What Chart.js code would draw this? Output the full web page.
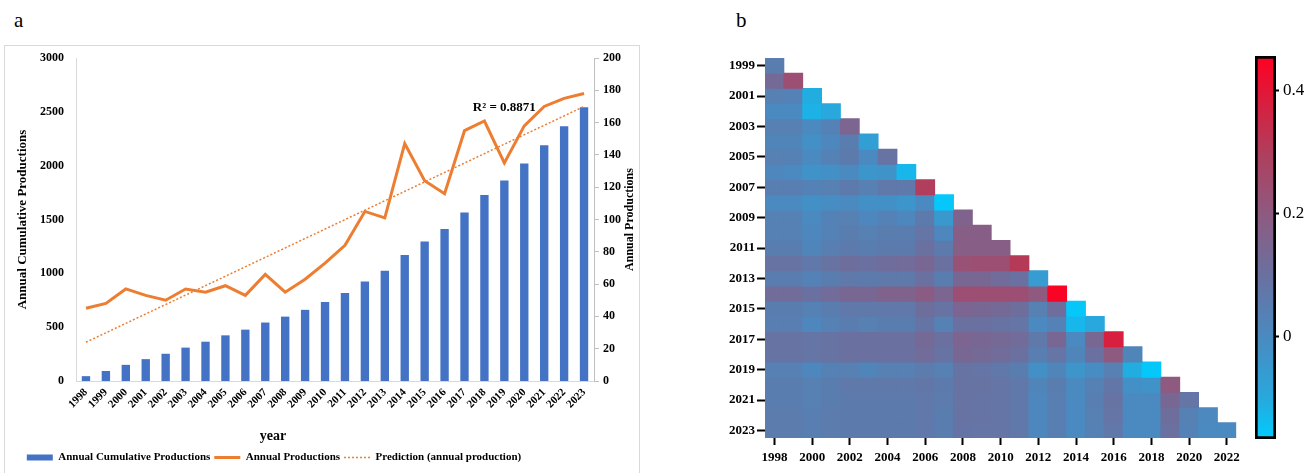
<!DOCTYPE html>
<html>
<head>
<meta charset="utf-8">
<script src="https://cdn.jsdelivr.net/npm/chart.js@4.4.1/dist/chart.umd.min.js"></script>
<style>
  body { margin: 0; background: #fff; }
  #wrap { position: relative; width: 1315px; height: 473px; overflow: hidden; }
  .panel-label { position: absolute; font-family: "Liberation Serif", serif; font-size: 21px; color: #000; line-height: 1; }
  #frameA { position: absolute; left: 4px; top: 45px; width: 634px; height: 440px; border: 1px solid #D9D9D9; }
  canvas { position: absolute; top: 0; }
</style>
</head>
<body>
<div id="wrap">
  <div id="frameA"></div>
  <div class="panel-label" style="left:14px; top:10px;">a</div>
  <div class="panel-label" style="left:736px; top:10px;">b</div>
  <canvas id="chartA" style="left:0px" width="650" height="473"></canvas>
  <canvas id="chartB" style="left:700px" width="545" height="473"></canvas>
  <canvas id="chartC" style="left:1240px" width="75" height="473"></canvas>
</div>
<script>
const SERIF = '"Liberation Serif", "Times New Roman", serif';

// panel a
const years = ['1998', '1999', '2000', '2001', '2002', '2003', '2004', '2005', '2006', '2007', '2008', '2009', '2010',
  '2011', '2012', '2013', '2014', '2015', '2016', '2017', '2018', '2019', '2020', '2021', '2022', '2023'];
const cumulative = [45, 93, 150, 203, 253, 310, 365, 424, 477, 543, 598, 661, 734,
  818, 923, 1024, 1171, 1295, 1411, 1566, 1727, 1862, 2020, 2190, 2365, 2543];
const annual = [45, 48, 57, 53, 50, 57, 55, 59, 53, 66, 55, 63, 73,
  84, 105, 101, 147, 124, 116, 155, 161, 135, 158, 170, 175, 178];
const trendYears = ['1998', '2023'];
const trendValues = [24, 170];
const r2Text = 'R² = 0.8871';

// panel b
const colYears = ['1998', '2000', '2002', '2004', '2006', '2008', '2010', '2012', '2014', '2016', '2018', '2020', '2022'];
const rowYears = ['1999', '2001', '2003', '2005', '2007', '2009', '2011', '2013', '2015', '2017', '2019', '2021', '2023'];
const corr = [
  [0.05],
  [0.13, 0.24],
  [0.04, 0.03, -0.11],
  [0.00, 0.00, -0.12, -0.10],
  [0.04, 0.04, 0.00, 0.03, 0.15],
  [0.02, 0.02, -0.02, 0.01, 0.05, -0.07],
  [0.04, 0.035, 0.00, 0.03, 0.06, 0.00, 0.09],
  [0.01, 0.00, -0.03, -0.02, 0.00, -0.04, -0.03, -0.13],
  [0.045, 0.045, 0.03, 0.04, 0.06, 0.04, 0.07, 0.065, 0.30],
  [0.00, 0.00, -0.02, -0.01, 0.00, -0.02, -0.02, -0.04, 0.00, -0.16],
  [0.035, 0.035, 0.00, 0.03, 0.04, 0.01, 0.03, 0.01, 0.06, -0.05, 0.16],
  [0.035, 0.035, 0.01, 0.03, 0.05, 0.04, 0.05, 0.05, 0.08, 0.01, 0.18, 0.18],
  [0.05, 0.05, 0.02, 0.045, 0.06, 0.05, 0.06, 0.06, 0.10, 0.06, 0.18, 0.18, 0.18],
  [0.09, 0.09, 0.07, 0.09, 0.11, 0.10, 0.115, 0.12, 0.14, 0.10, 0.23, 0.24, 0.24, 0.31],
  [0.05, 0.05, 0.03, 0.05, 0.065, 0.06, 0.065, 0.065, 0.10, 0.05, 0.14, 0.14, 0.12, 0.10, -0.06],
  [0.12, 0.12, 0.10, 0.12, 0.14, 0.14, 0.16, 0.16, 0.19, 0.15, 0.24, 0.24, 0.24, 0.24, 0.20, 0.45],
  [0.05, 0.05, 0.035, 0.05, 0.07, 0.065, 0.07, 0.07, 0.11, 0.09, 0.15, 0.14, 0.13, 0.11, 0.04, 0.11, -0.16],
  [0.045, 0.045, 0.01, 0.035, 0.05, 0.04, 0.05, 0.05, 0.085, 0.035, 0.10, 0.10, 0.09, 0.08, 0.00, 0.03, -0.13, -0.10],
  [0.09, 0.09, 0.08, 0.09, 0.10, 0.10, 0.10, 0.10, 0.13, 0.10, 0.15, 0.14, 0.13, 0.12, 0.065, 0.14, 0.00, 0.14, 0.38],
  [0.09, 0.09, 0.08, 0.09, 0.10, 0.10, 0.10, 0.10, 0.12, 0.09, 0.14, 0.13, 0.12, 0.10, 0.045, 0.08, 0.02, 0.10, 0.20, 0.02],
  [0.04, 0.04, 0.01, 0.035, 0.04, 0.02, 0.04, 0.04, 0.055, 0.04, 0.09, 0.08, 0.07, 0.05, -0.02, 0.02, -0.035, -0.01, 0.04, -0.11, -0.16],
  [0.05, 0.05, 0.04, 0.05, 0.065, 0.065, 0.065, 0.065, 0.075, 0.06, 0.09, 0.09, 0.08, 0.07, 0.02, 0.05, 0.00, 0.035, 0.075, -0.02, -0.03, 0.20],
  [0.05, 0.05, 0.04, 0.05, 0.06, 0.06, 0.06, 0.06, 0.07, 0.055, 0.09, 0.085, 0.08, 0.07, 0.01, 0.045, 0.00, 0.045, 0.09, 0.00, 0.00, 0.14, 0.08],
  [0.055, 0.055, 0.045, 0.055, 0.06, 0.06, 0.06, 0.06, 0.07, 0.05, 0.09, 0.085, 0.08, 0.07, 0.01, 0.045, 0.00, 0.04, 0.08, 0.00, 0.00, 0.11, 0.035, 0.005],
  [0.055, 0.055, 0.045, 0.055, 0.06, 0.06, 0.06, 0.06, 0.07, 0.05, 0.085, 0.08, 0.08, 0.07, 0.01, 0.045, 0.00, 0.035, 0.07, 0.00, 0.00, 0.10, 0.03, 0.00, 0.00]
];
const colorbarRange = [-0.167, 0.457];
const colorbarTicks = [0, 0.2, 0.4];

// colour map (value -> rgb)
const colorStops = [
  [-0.17, [0, 204, 255]],
  [-0.10, [40, 168, 220]],
  [0.00, [74, 138, 192]],
  [0.10, [106, 112, 160]],
  [0.20, [142, 90, 128]],
  [0.30, [176, 62, 92]],
  [0.46, [255, 0, 34]]
];
function colorFor(v) {
  if (v <= colorStops[0][0]) return 'rgb(' + colorStops[0][1].join(',') + ')';
  for (let i = 1; i < colorStops.length; i++) {
    const [v1, c1] = colorStops[i];
    const [v0, c0] = colorStops[i - 1];
    if (v <= v1) {
      const t = (v - v0) / (v1 - v0);
      const c = c0.map((a, k) => Math.round(a + (c1[k] - a) * t));
      return 'rgb(' + c.join(',') + ')';
    }
  }
  return 'rgb(' + colorStops[colorStops.length - 1][1].join(',') + ')';
}

Chart.defaults.font.family = SERIF;
Chart.defaults.color = '#000';
Chart.defaults.animation = false;
Chart.defaults.plugins.tooltip.enabled = false;

const ORANGE = '#ED7D31';
const BLUE = '#4472C4';

const annotA = {
  id: 'annotA',
  afterUpdate(chart) {
    const shift = (box, cx) => {
      if (!box) return;
      const d = cx - (box.left + box.right) / 2;
      box.left += d;
      box.right += d;
    };
    shift(chart.legend, 274);
    shift(chart.titleBlock, 273);
  },
  afterDatasetsDraw(chart) {
    const { ctx, scales: { x, y1 }, chartArea } = chart;
    ctx.save();
    ctx.fillStyle = '#000';
    ctx.font = 'bold 13px ' + SERIF;
    ctx.textAlign = 'center';
    ctx.textBaseline = 'middle';
    ctx.fillText(r2Text, x.getPixelForValue(21), y1.getPixelForValue(169));
    ctx.font = 'bold 12px ' + SERIF;
    ctx.translate(y1.left + 36, (chartArea.top + chartArea.bottom) / 2);
    ctx.rotate(-Math.PI / 2);
    ctx.fillText('Annual Productions', 0, 0);
    ctx.restore();
  }
};

new Chart(document.getElementById('chartA'), {
  type: 'bar',
  data: {
    labels: years,
    datasets: [
      {
        type: 'bar',
        label: 'Annual Cumulative Productions',
        data: cumulative,
        backgroundColor: BLUE,
        yAxisID: 'y',
        barPercentage: 0.42,
        categoryPercentage: 1,
        order: 3
      },
      {
        type: 'line',
        label: 'Annual Productions',
        data: annual,
        borderColor: ORANGE,
        backgroundColor: ORANGE,
        borderWidth: 3,
        pointRadius: 0,
        tension: 0,
        yAxisID: 'y1',
        order: 1
      },
      {
        type: 'line',
        label: 'Prediction (annual production)',
        data: trendYears.map((yr, i) => ({ x: yr, y: trendValues[i] })),
        borderColor: ORANGE,
        backgroundColor: 'transparent',
        borderWidth: 1.5,
        borderDash: [2, 2],
        pointRadius: 0,
        yAxisID: 'y1',
        order: 2
      }
    ]
  },
  options: {
    responsive: false,
    layout: { padding: { left: 0, right: 0, top: 58, bottom: 0 } },
    scales: {
      x: {
        grid: { display: false, drawTicks: false },
        border: { color: '#D9D9D9' },
        ticks: { autoSkip: false, minRotation: 45, maxRotation: 45, padding: 5, font: { size: 11, weight: 'bold' } },
        afterFit(scale) {
          const c = scale.chart;
          scale.height = 473 - 381 - (c.legend ? c.legend.height : 0) - (c.titleBlock ? c.titleBlock.height : 0);
        }
      },
      y: {
        position: 'left',
        min: 0,
        max: 3000,
        ticks: { stepSize: 500, padding: 12, font: { size: 12, weight: 'bold' }, callback: (v) => String(v) },
        grid: { display: false, drawTicks: false },
        border: { color: '#D9D9D9' },
        title: { display: true, text: 'Annual Cumulative Productions', font: { size: 13, weight: 'bold' }, padding: { top: 15, bottom: 0 } },
        afterFit(scale) { scale.width = 76; }
      },
      y1: {
        position: 'right',
        min: 0,
        max: 200,
        ticks: { stepSize: 20, padding: 4, font: { size: 12, weight: 'bold' }, callback: (v) => String(v) },
        grid: { display: true, drawOnChartArea: false, drawTicks: true, tickLength: 5, color: '#BFBFBF' },
        border: { color: '#BFBFBF' },
        afterFit(scale) { scale.width = 56; }
      }
    },
    plugins: {
      title: {
        display: true,
        text: 'year',
        position: 'bottom',
        weight: 500,
        font: { size: 14, weight: 'bold' },
        color: '#000',
        padding: { top: 2, bottom: 3 }
      },
      legend: {
        position: 'bottom',
        labels: {
          usePointStyle: true,
          pointStyleWidth: 26,
          boxHeight: 6,
          padding: 4,
          color: '#000',
          font: { size: 11, weight: 'bold' },
          generateLabels(chart) {
            return chart.data.datasets.map((ds, i) => ({
              text: ds.label,
              datasetIndex: i,
              pointStyle: i === 0 ? 'rect' : 'line',
              fillStyle: i === 0 ? ds.backgroundColor : 'transparent',
              strokeStyle: ds.borderColor || ds.backgroundColor,
              lineWidth: i === 0 ? 0 : ds.borderWidth,
              lineDash: ds.borderDash || [],
              fontColor: '#000'
            }));
          }
        }
      }
    }
  },
  plugins: [annotA]
});

// panel b heatmap: one floating-bar dataset per row
const heatDatasets = corr.map((row, i) => ({
  data: row.map((v, j) => ({ x: j, y: [i - 0.5, i + 0.5] })),
  backgroundColor: row.map(colorFor),
  borderWidth: 0,
  inflateAmount: 0.45,
  grouped: false,
  barPercentage: 1,
  categoryPercentage: 1
}));

const tickEvery2 = (scale) => {
  const t = [];
  for (let v = 0; v <= 24; v += 2) t.push({ value: v });
  scale.ticks = t;
};

new Chart(document.getElementById('chartB'), {
  type: 'bar',
  data: { datasets: heatDatasets },
  options: {
    responsive: false,
    layout: { padding: { left: 0, right: 8, top: 58, bottom: 0 } },
    plugins: { legend: { display: false } },
    scales: {
      x: {
        type: 'linear',
        min: -0.5,
        max: 24.5,
        offset: false,
        afterBuildTicks: tickEvery2,
        ticks: { padding: 5, font: { size: 13, weight: 'bold' }, callback: (v) => colYears[v / 2] },
        grid: { display: true, offset: false, drawOnChartArea: false, drawTicks: true, tickLength: 7, tickWidth: 2, tickColor: '#000' },
        border: { display: false },
        afterFit(scale) { scale.height = 35; }
      },
      y: {
        type: 'linear',
        reverse: true,
        min: -0.5,
        max: 24.5,
        afterBuildTicks: tickEvery2,
        ticks: { padding: 2, font: { size: 13, weight: 'bold' }, callback: (v) => rowYears[v / 2] },
        grid: { display: true, offset: false, drawOnChartArea: false, drawTicks: true, tickLength: 8, tickWidth: 2, tickColor: '#000' },
        border: { display: false },
        afterFit(scale) { scale.width = 65; }
      }
    }
  }
});

// colour bar
new Chart(document.getElementById('chartC'), {
  type: 'bar',
  data: {
    labels: ['scale'],
    datasets: [{
      data: [colorbarRange],
      backgroundColor(ctx) {
        const area = ctx.chart.chartArea;
        if (!area) return '#6A70A0';
        const g = ctx.chart.ctx.createLinearGradient(0, area.bottom, 0, area.top);
        const [lo, hi] = colorbarRange;
        colorStops.forEach(([v, c]) => {
          const p = Math.min(1, Math.max(0, (v - lo) / (hi - lo)));
          g.addColorStop(p, 'rgb(' + c.join(',') + ')');
        });
        return g;
      },
      borderColor: '#000',
      borderWidth: 3,
      borderSkipped: false,
      barPercentage: 1,
      categoryPercentage: 1
    }]
  },
  options: {
    responsive: false,
    layout: { padding: { left: 15, right: 0, top: 56, bottom: 34 } },
    plugins: { legend: { display: false } },
    scales: {
      x: { display: false },
      y: {
        position: 'right',
        min: colorbarRange[0],
        max: colorbarRange[1],
        afterBuildTicks(scale) { scale.ticks = colorbarTicks.map(v => ({ value: v })); },
        ticks: { padding: 4, font: { size: 17 }, callback: (v) => (v === 0 ? '0' : v.toFixed(1)) },
        grid: { display: true, drawOnChartArea: false, drawTicks: true, tickLength: 3, tickWidth: 2, tickColor: '#000' },
        border: { display: false },
        afterFit(scale) { scale.width = 39; }
      }
    }
  }
});
</script>
</body>
</html>
